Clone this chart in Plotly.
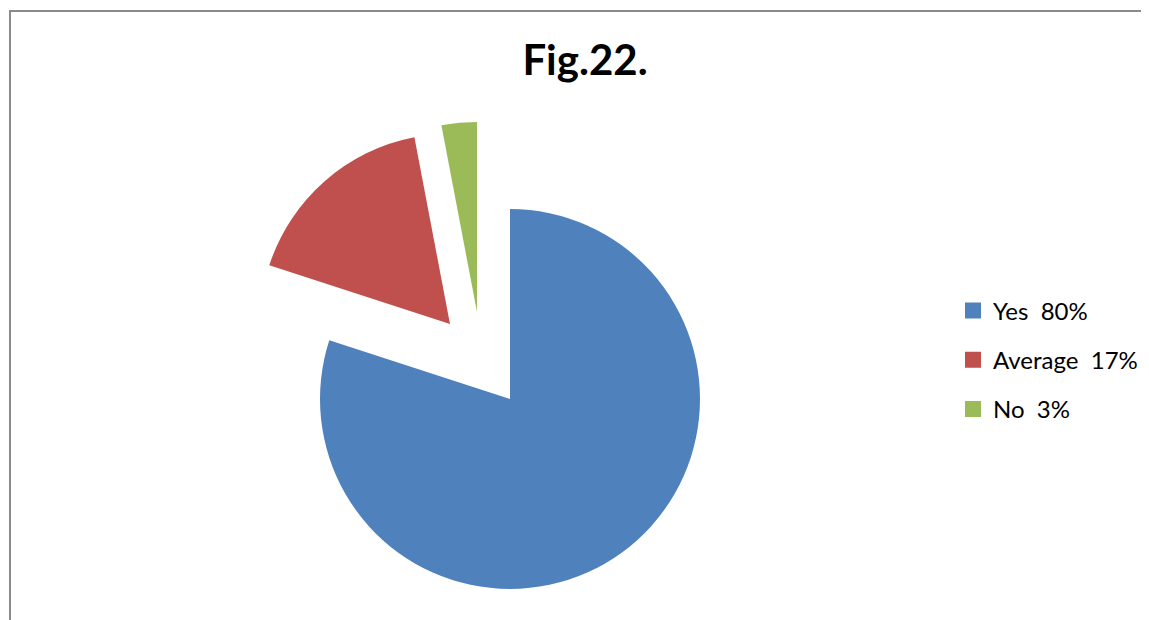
import plotly.graph_objects as go

# page body adds an 8px margin, so the figure is 8px smaller and all
# pixel positions below are measured from the figure's own corner
OFF = 8
W, H = 1149 - OFF, 620 - OFF

labels = ["Yes", "Average", "No"]
values = [80, 17, 3]
colors = ["#4F81BD", "#C0504D", "#9BBB59"]

# pie centres (screen px) - Excel style exploded slices, radius in px
R = 190
centres = [(510, 399), (450, 324), (477, 312)]

CLEAR = "rgba(0,0,0,0)"


def _px_x(x):
    return (x - OFF) / W


def _px_y(y):
    return 1 - (y - OFF) / H


def _domain(cx, cy):
    return dict(
        x=[_px_x(cx - R), _px_x(cx + R)],
        y=[_px_y(cy + R), _px_y(cy - R)],
    )


fig = go.Figure()

# one pie per slice so each one can sit at its own offset
for i, (cx, cy) in enumerate(centres):
    slice_colors = [c if j == i else CLEAR for j, c in enumerate(colors)]
    fig.add_trace(
        go.Pie(
            labels=labels,
            values=values,
            sort=False,
            direction="clockwise",
            rotation=0,
            textinfo="none",
            marker=dict(colors=slice_colors, line=dict(width=0)),
            domain=_domain(cx, cy),
            showlegend=False,
            hoverinfo="skip",
        )
    )

# legend entries
for i, (lab, val) in enumerate(zip(labels, values)):
    fig.add_trace(
        go.Scatter(
            x=[None],
            y=[None],
            mode="markers",
            name=f"{lab}\u00a0 {val}%",
            legendgroup=f"g{i}",
            marker=dict(symbol="square", size=16, color=colors[i]),
        )
    )

fig.update_layout(
    width=W,
    height=H,
    margin=dict(l=0, r=0, t=0, b=0),
    paper_bgcolor="white",
    plot_bgcolor="white",
    font=dict(family="Lato, Open Sans, sans-serif", color="black", size=24),
    title=dict(
        text="<b>Fig.22.</b>",
        x=_px_x(585),
        xanchor="center",
        y=_px_y(60),
        yanchor="middle",
        font=dict(size=42, family="Lato", color="black"),
    ),
    xaxis=dict(visible=False),
    yaxis=dict(visible=False),
    legend=dict(
        x=_px_x(953),
        xanchor="left",
        y=_px_y(360),
        yanchor="middle",
        tracegroupgap=15,
        font=dict(size=24),
        bgcolor=CLEAR,
    ),
    shapes=[
        dict(
            type="rect",
            xref="paper",
            yref="paper",
            x0=_px_x(10),
            x1=1.05,
            y0=-0.05,
            y1=_px_y(11),
            line=dict(color="#8a8a8a", width=2),
            fillcolor=CLEAR,
        )
    ],
)

fig.write_html("out.html")
